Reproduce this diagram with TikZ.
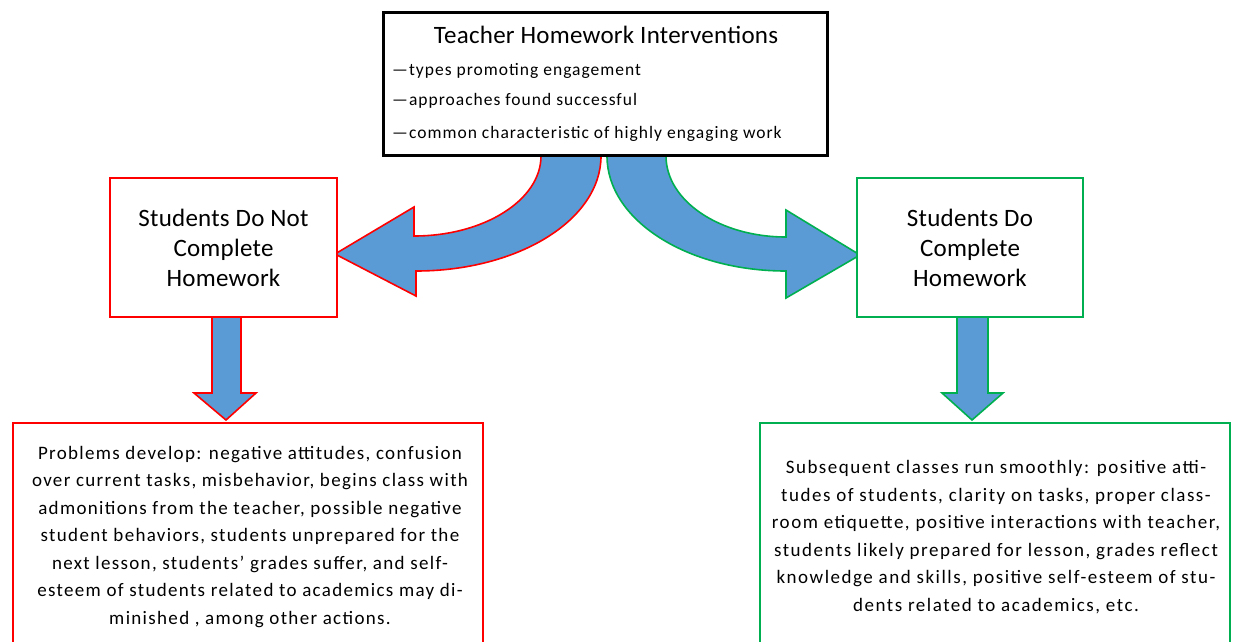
\documentclass[tikz,border=0pt]{standalone}
\usepackage{fontspec}
\setmainfont{Carlito}
\newfontfamily\titlefont[LetterSpace=1]{Carlito}
\newfontfamily\bulletfont[LetterSpace=5.8]{Carlito}
\newfontfamily\leftfont[LetterSpace=7]{Carlito}
\newfontfamily\rightfont[LetterSpace=8]{Carlito}
\usetikzlibrary{calc}
\definecolor{fillblue}{HTML}{5B9BD5}
\definecolor{myred}{HTML}{FF0000}
\definecolor{mygreen}{HTML}{00B050}
\tikzset{
  box/.style={draw, line width=2.5pt, fill=white, inner sep=0pt},
  topbox/.style={box, draw=black, line width=3pt},
  redbox/.style={box, draw=myred},
  greenbox/.style={box, draw=mygreen},
  blockred/.style={fill=fillblue, draw=myred, line width=1.6pt, line join=miter},
  blockgreen/.style={fill=fillblue, draw=mygreen, line width=1.6pt, line join=miter},
  midtext/.style={align=center, font=\titlefont\fontsize{25}{30}\selectfont},
  bottext/.style={align=center},
  bullet/.style={anchor=west, inner sep=0pt, font=\bulletfont\fontsize{17.5}{20}\selectfont},
}
\begin{document}
\begin{tikzpicture}[x=1pt,y=-1pt]
\useasboundingbox (0,0) rectangle (1233,641);
\clip (0,0) rectangle (1233,641);
\fill[white] (0,0) rectangle (1233,641);

% curved block arrows (drawn below boxes)
\draw[blockred] (541,156) .. controls (541,200) and (484,236) .. (414,236)
  -- (414,207) -- (335,254) -- (416,296) -- (416,271)
  .. controls (518,271) and (601,220) .. (601,156) -- cycle;
\draw[blockgreen] (666,156) .. controls (666,201) and (720,237) .. (786,237)
  -- (786,210) -- (860,255) -- (786,298) -- (786,271)
  .. controls (687,271) and (607,220) .. (607,156) -- cycle;

% down block arrows
\draw[blockred] (212,317) -- (212,393) -- (194,393) -- (226,420) -- (256,393) -- (241,393) -- (241,317) -- cycle;
\draw[blockgreen] (957,317) -- (957,393) -- (942,393) -- (972,420) -- (1003,393) -- (988,393) -- (988,317) -- cycle;

% top box
\node[topbox, minimum width=444pt, minimum height=143pt] (top) at (605,83.5) {};
\node[font=\titlefont\fontsize{25}{30}\selectfont, inner sep=0pt] (title) at (606,35) {Teacher Homework Interventions};
\node[bullet] (b1) at (392,71) {—types promoting engagement};
\node[bullet] (b2) at (392,101) {—approaches found successful};
\node[bullet] (b3) at (392,134) {—common characteristic of highly engaging work};

% middle boxes
\node[redbox, minimum width=227pt, minimum height=139pt] (nl) at (223.5,247.5) {};
\node[midtext] (nlt) at (223.5,247.5) {Students Do Not\\Complete\\Homework};
\node[greenbox, minimum width=226pt, minimum height=139pt] (nr) at (970,247.5) {};
\node[midtext] (nrt) at (970,247.5) {Students Do\\Complete\\Homework};

% bottom boxes
\node[redbox, minimum width=470pt, minimum height=240pt] (bl) at (248,543) {};
\node[bottext, font=\leftfont\fontsize{19}{27.5}\selectfont] (blt) at (250,537) {Problems develop: negative attitudes, confusion\\over current tasks, misbehavior, begins class with\\admonitions from the teacher, possible negative\\student behaviors, students unprepared for the\\next lesson, students’ grades suffer, and self-\\esteem of students related to academics may di-\\minished , among other actions.};
\node[greenbox, minimum width=470pt, minimum height=240pt] (br) at (995,543) {};
\node[bottext, font=\rightfont\fontsize{19}{27.5}\selectfont] (brt) at (996,537) {Subsequent classes run smoothly: positive atti-\\tudes of students, clarity on tasks, proper class-\\room etiquette, positive interactions with teacher,\\students likely prepared for lesson, grades reflect\\knowledge and skills, positive self-esteem of stu-\\dents related to academics, etc.};
\end{tikzpicture}
\end{document}
